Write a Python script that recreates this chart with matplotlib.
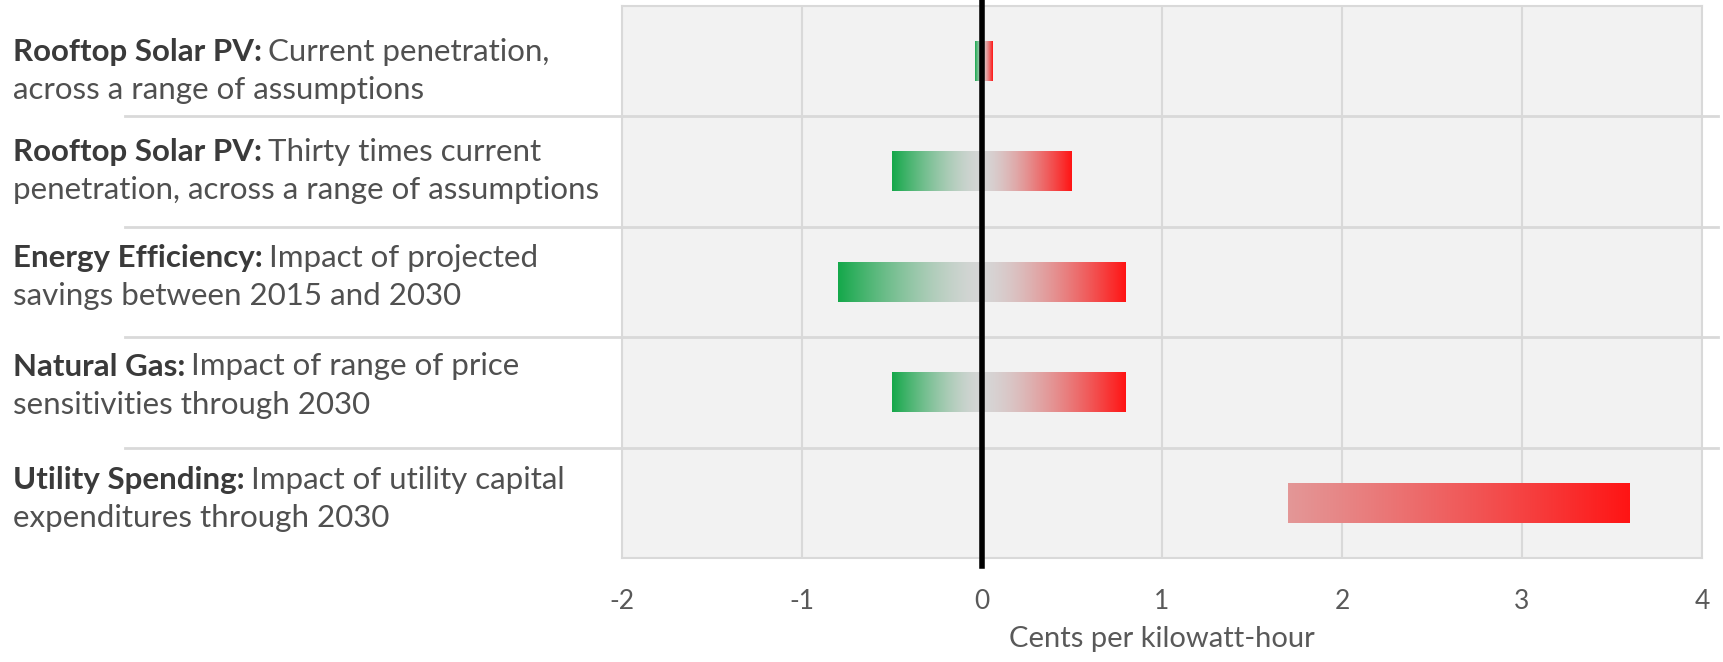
import numpy as np
import matplotlib.pyplot as plt
from matplotlib.colors import to_rgb

# categorie e intervalli (centesimi per kWh)
bold_labels = ['Rooftop Solar PV:', 'Rooftop Solar PV:', 'Energy Efficiency:',
               'Natural Gas:', 'Utility Spending:']
first_lines = ['Current penetration,', 'Thirty times current', 'Impact of projected',
               'Impact of range of price', 'Impact of utility capital']
second_lines = ['across a range of assumptions', 'penetration, across a range of assumptions',
                'savings between 2015 and 2030', 'sensitivities through 2030',
                'expenditures through 2030']
low = [-0.04, -0.5, -0.8, -0.5, 1.7]
high = [0.06, 0.5, 0.8, 0.8, 3.6]
xticks = [-2, -1, 0, 1, 2, 3, 4]

W, H = 1723, 662
plt.rcParams['font.family'] = ['Lato', 'DejaVu Sans']

green = np.array(to_rgb('#14a84a'))
red = np.array(to_rgb('#ff1414'))
grey = np.array(to_rgb('#d6d6d6'))

fig = plt.figure(figsize=(W / 100, H / 100), dpi=100)
ax = fig.add_axes([622 / W, 1 - 558 / H, 1080 / W, 552 / H])
ax.set_facecolor('#f2f2f2')


def gradient_bar(a, b, y, end_col, ref, h=0.36):
    xs = np.linspace(a, b, 200)
    t = np.clip(np.abs(xs) / abs(ref), 0, 1)[:, None] ** 1.5
    img = (grey * (1 - t) + end_col * t)[None, :, :]
    ax.imshow(img, extent=(a, b, y + h / 2, y - h / 2), aspect='auto',
              interpolation='bilinear', zorder=3)


for i, (lo, hi) in enumerate(zip(low, high)):
    if lo < 0:
        gradient_bar(lo, 0, i, green, lo)
        gradient_bar(0, hi, i, red, hi)
    else:
        gradient_bar(lo, hi, i, red, hi)

ax.set_xlim(-2, 4)
ax.set_ylim(4.5, -0.5)
ax.set_xticks(xticks)
ax.set_xticklabels([str(v) for v in xticks], fontsize=19, color='#595959')
ax.set_yticks([])
ax.tick_params(axis='x', length=0, pad=22)
for x in xticks[1:-1]:
    ax.axvline(x, color='#d9d9d9', lw=1.5, zorder=1)
for s in ax.spines.values():
    s.set_color('#d9d9d9')
    s.set_linewidth(1.5)

# separatori tra le righe
for y in [0.5, 1.5, 2.5, 3.5]:
    ax.axhline(y, xmin=-0.46, xmax=1.015, color='#d9d9d9', lw=2, clip_on=False, zorder=2)

ax.axvline(0, ymin=-0.015, ymax=1.012, color='black', lw=4, clip_on=False, zorder=5)
ax.set_xlabel('Cents per kilowatt-hour', fontsize=21, color='#595959', labelpad=9)

# etichette a sinistra: parte in grassetto + testo normale
renderer = fig.canvas.get_renderer()
label_mid = [69, 168, 275, 383, 496]
x0 = 13
for i in range(5):
    y1 = 1 - (label_mid[i] - 19) / H
    y2 = 1 - (label_mid[i] + 19) / H
    tb = fig.text(x0 / W, y1, bold_labels[i], fontsize=22.5, fontweight='bold',
                  color='#3a3a3a', va='center_baseline', ha='left')
    wb = tb.get_window_extent(renderer).width
    fig.text((x0 + wb + 6) / W, y1, first_lines[i], fontsize=22.5,
             color='#505050', va='center_baseline', ha='left')
    fig.text(x0 / W, y2, second_lines[i], fontsize=22.5, color='#505050',
             va='center_baseline', ha='left')

plt.savefig('out.png', dpi=100)
